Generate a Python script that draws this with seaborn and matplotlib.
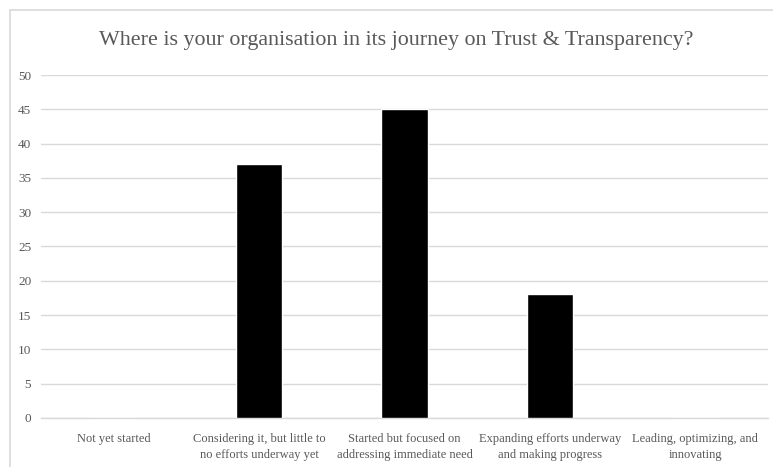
import matplotlib
matplotlib.use("Agg")
import matplotlib.pyplot as plt
import seaborn as sns
import pandas as pd
from matplotlib.patches import Rectangle

categories = [
    "Not yet started",
    "Considering it, but little to\nno efforts underway yet",
    "Started but focused on\naddressing immediate need",
    "Expanding efforts underway\nand making progress",
    "Leading, optimizing, and\ninnovating",
]
responses = [0, 37, 45, 18, 0]
y_ticks = [0, 5, 10, 15, 20, 25, 30, 35, 40, 45, 50]
title = "Where is your organisation in its journey on Trust & Transparency?"

df = pd.DataFrame({"stage": categories, "count": responses})

sns.set_theme(style="white")
plt.rcParams["font.family"] = ["Liberation Serif", "DejaVu Serif"]

text_grey = "#595959"
grid_grey = "#d9d9d9"

fig = plt.figure(figsize=(7.73, 4.67), dpi=100)
ax = fig.add_axes([0.053, 0.105, 0.9405, 0.7344])

sns.barplot(data=df, x="stage", y="count", color="black", width=0.32,
            saturation=1, ax=ax, zorder=3)

ax.set_ylim(0, 50)
ax.set_yticks(y_ticks)
ax.set_xlim(-0.5, len(categories) - 0.5)
ax.yaxis.grid(True, color=grid_grey, linewidth=1.0, zorder=0)
ax.xaxis.grid(False)
for side in ["left", "right", "top"]:
    ax.spines[side].set_visible(False)
ax.spines["bottom"].set_color(grid_grey)
ax.spines["bottom"].set_linewidth(1.0)
ax.tick_params(axis="both", length=0, colors=text_grey)
ax.tick_params(axis="y", labelsize=9.5, pad=7)
ax.tick_params(axis="x", labelsize=9, pad=10.5)
for lbl in ax.get_xticklabels():
    lbl.set_linespacing(1.45)
ax.set_xlabel("")
ax.set_ylabel("")

fig.text(396.5 / 773, 1 - 40 / 467, title, ha="center", va="center",
         fontsize=15.8, color=text_grey)

# light chart-area frame
fig.patches.append(Rectangle((10 / 773, -0.5), 2.0, 1.5 - 10 / 467,
                             transform=fig.transFigure, fill=False,
                             edgecolor=grid_grey, linewidth=1.2))

fig.savefig("out.png", dpi=100, facecolor="white")
